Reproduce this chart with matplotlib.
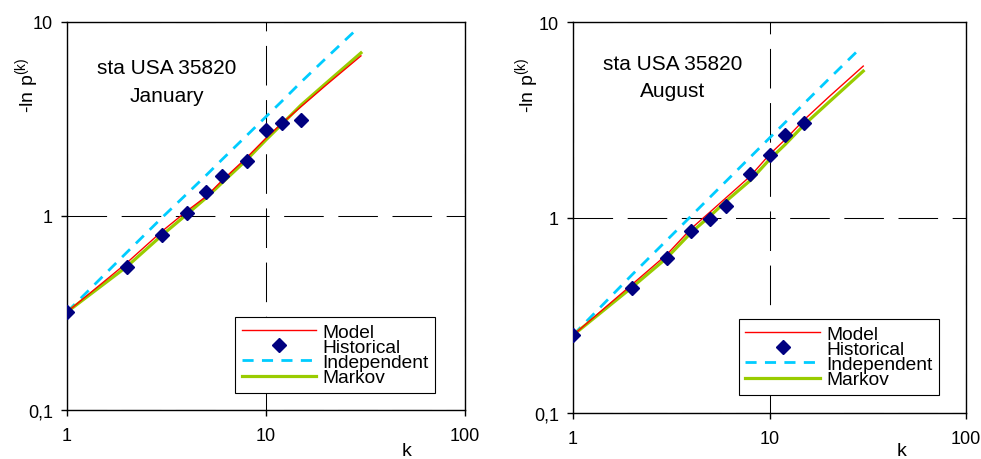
import matplotlib
matplotlib.use("Agg")
import matplotlib.pyplot as plt
from matplotlib.ticker import FixedLocator, FixedFormatter, NullLocator

plt.rcParams['font.family'] = ['Liberation Sans', 'DejaVu Sans']
plt.rcParams['mathtext.fontset'] = 'custom'
plt.rcParams['mathtext.rm'] = 'Liberation Sans'
plt.rcParams['mathtext.it'] = 'Liberation Sans:italic'

# ---------------- data ----------------
k_line = [1, 2, 3, 4, 5, 6, 8, 10, 12, 15, 20, 30]
k_hist = [1, 2, 3, 4, 5, 6, 8, 10, 12, 15]
k_indep = [1, 2, 3, 4, 5, 6, 8, 10, 12, 15, 20, 28]

jan_model = [0.32, 0.574, 0.834, 1.06, 1.26, 1.52, 2.0, 2.52, 3.0, 3.66, 4.72, 6.69]
jan_markov = [0.32, 0.549, 0.796, 1.02, 1.24, 1.48, 1.95, 2.47, 2.97, 3.73, 4.83, 6.93]
jan_indep = [0.32, 0.65, 0.98, 1.30, 1.62, 1.95, 2.60, 3.25, 3.90, 4.90, 6.50, 9.0]
jan_hist = [0.321, 0.549, 0.799, 1.036, 1.323, 1.61, 1.93, 2.77, 3.0, 3.11]

aug_model = [0.25, 0.455, 0.646, 0.879, 1.07, 1.26, 1.63, 2.10, 2.50, 3.16, 4.13, 5.95]
aug_markov = [0.25, 0.44, 0.621, 0.839, 1.02, 1.21, 1.55, 1.98, 2.36, 2.98, 3.88, 5.61]
aug_indep = [0.25, 0.51, 0.765, 1.02, 1.275, 1.53, 2.04, 2.55, 3.06, 3.83, 5.10, 7.1]
aug_hist = [0.250, 0.437, 0.624, 0.852, 0.988, 1.15, 1.67, 2.09, 2.65, 3.04]

x_ticks = [1, 10, 100]
x_ticklabels = ['1', '10', '100']
y_ticks = [0.1, 1, 10]
y_ticklabels = ['0,1', '1', '10']

panels = [
    dict(pos=[67/981, 1-411/460, 398/981, 388/460], title=['sta USA 35820', 'January'],
         model=jan_model, markov=jan_markov, indep=jan_indep, hist=jan_hist,
         leg=(0.925, 0.044), ylab=(27, 85), xlab=(407, 452), tx=(167, 69, 97)),
    dict(pos=[573/981, 1-414/460, 393/981, 391/460], title=['sta USA 35820', 'August'],
         model=aug_model, markov=aug_markov, indep=aug_indep, hist=aug_hist,
         leg=(0.931, 0.046), ylab=(527, 85), xlab=(902, 452), tx=(673, 65, 92)),
]

W, H = 981, 460
fig = plt.figure(figsize=(W/100, H/100), dpi=100)

for p in panels:
    ax = fig.add_axes(p['pos'])
    ax.set_xscale('log')
    ax.set_yscale('log')
    ax.set_xlim(1, 100)
    ax.set_ylim(0.1, 10)

    ax.plot(k_line, p['model'], color='#FF0000', lw=1.0, label='Model', zorder=4)
    ax.plot(k_hist, p['hist'], linestyle='none', marker='D', markersize=7.5,
            color='#000080', label='Historical', zorder=5)
    ax.plot(k_indep, p['indep'], color='#00CCFF', lw=2.0, linestyle=(0, (4, 3)),
            label='Independent', zorder=3)
    ax.plot(k_line, p['markov'], color='#99CC00', lw=2.3, label='Markov', zorder=3.5)

    ax.xaxis.set_major_locator(FixedLocator(x_ticks))
    ax.xaxis.set_major_formatter(FixedFormatter(x_ticklabels))
    ax.yaxis.set_major_locator(FixedLocator(y_ticks))
    ax.yaxis.set_major_formatter(FixedFormatter(y_ticklabels))
    ax.xaxis.set_minor_locator(NullLocator())
    ax.yaxis.set_minor_locator(NullLocator())
    ax.tick_params(axis='both', which='major', direction='out', length=4, width=1,
                   labelsize=13, color='black')
    ax.tick_params(axis='y', pad=6)
    ax.tick_params(axis='x', pad=8)
    ax.grid(True, which='major', color='black', lw=0.75, linestyle=(0, (38, 14)))
    ax.set_axisbelow(True)
    for s in ax.spines.values():
        s.set_linewidth(1.0)
        s.set_color('black')

    leg = ax.legend(loc='lower right', bbox_to_anchor=p['leg'], borderaxespad=0,
                    fontsize=13.8, frameon=True, fancybox=False, edgecolor='black',
                    framealpha=1, handlelength=3.9, handletextpad=0.3,
                    labelspacing=-0.12, borderpad=0.35)
    leg.get_frame().set_linewidth(0.8)

    cx, y1, y2 = p['tx']
    fig.text(cx/W, 1-y1/H, p['title'][0], ha='center', va='center', fontsize=15)
    fig.text(cx/W, 1-y2/H, p['title'][1], ha='center', va='center', fontsize=15)

    fig.text(p['ylab'][0]/W, 1-p['ylab'][1]/H, r'-ln p$^{\mathrm{(k)}}$', rotation=90,
             ha='center', va='center', fontsize=14)
    fig.text(p['xlab'][0]/W, 1-p['xlab'][1]/H, 'k', ha='center', va='center', fontsize=14)

fig.savefig('out.png', dpi=100)
